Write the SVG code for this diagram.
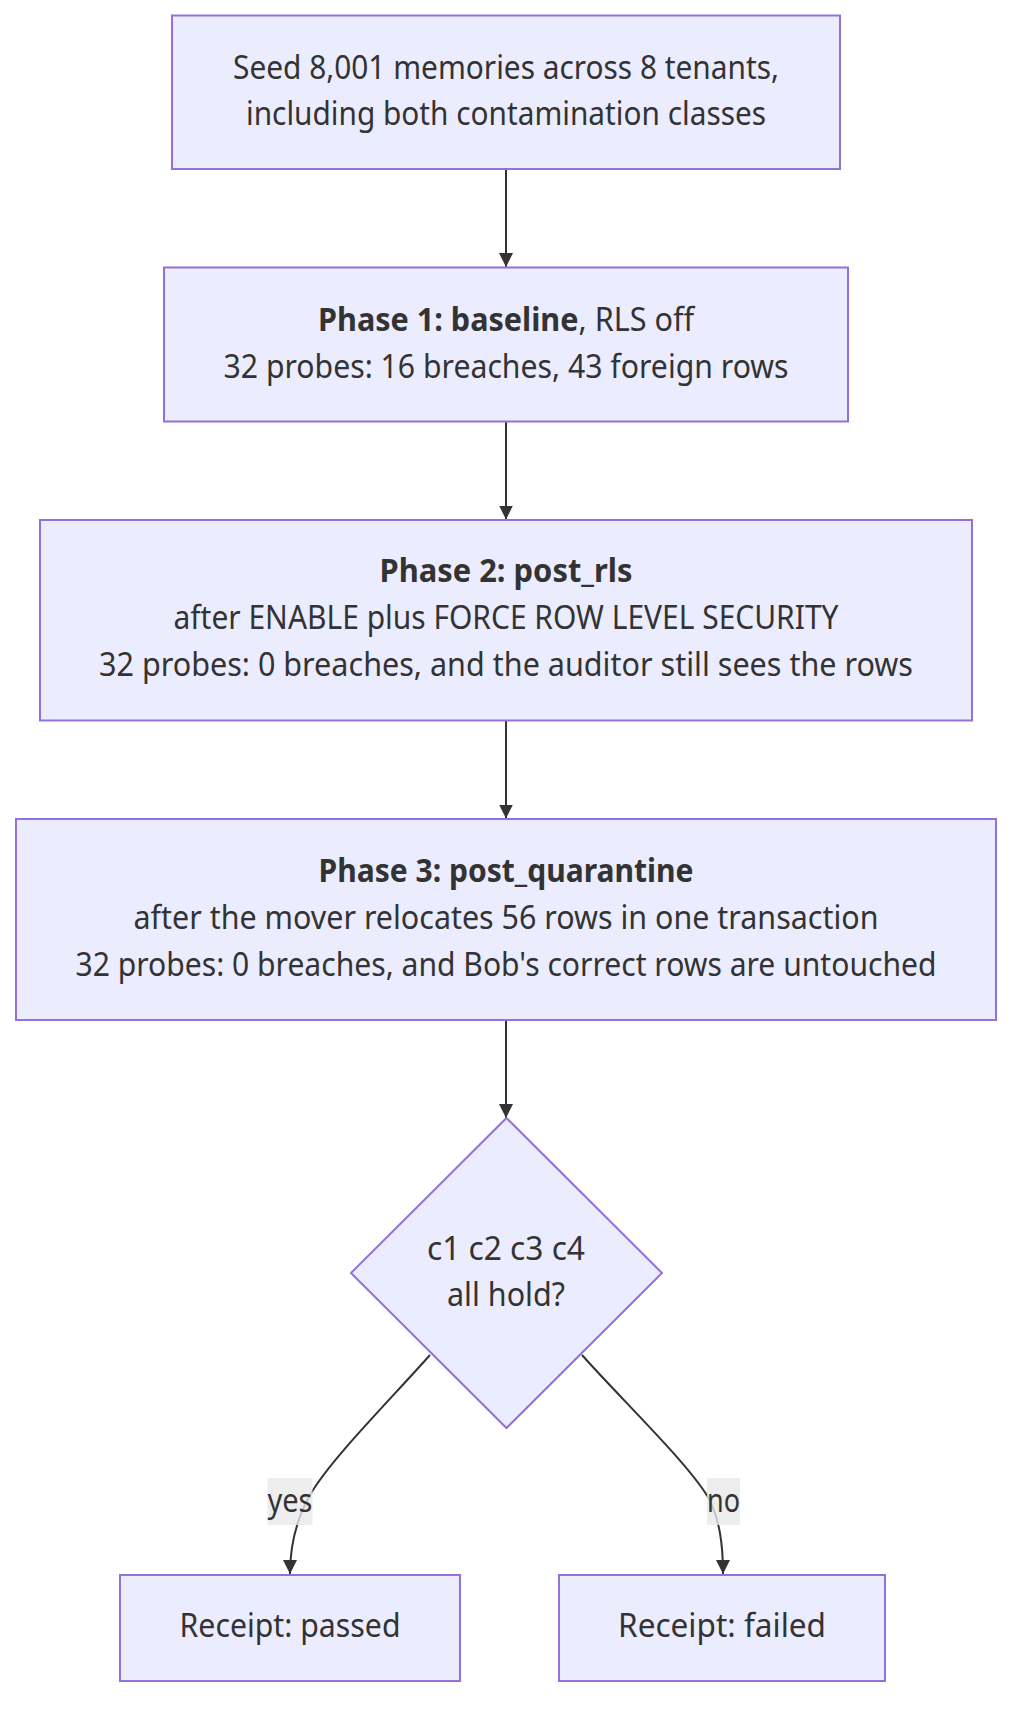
<svg xmlns="http://www.w3.org/2000/svg" width="1028" height="1724" viewBox="0 0 1028 1724">
<style>
.node{fill:#ECECFF;stroke:#9370DB;stroke-width:2}
.t{font-family:"Noto Sans","Liberation Sans",sans-serif;font-size:32px;fill:#333;text-anchor:middle}
.b{font-weight:bold}
.edge{fill:none;stroke:#333;stroke-width:2}
.lbl{fill:#e8e8e8;fill-opacity:0.8}
</style>
<defs>
<marker id="arrow" viewBox="0 0 10 10" refX="10" refY="5" markerUnits="userSpaceOnUse" markerWidth="14" markerHeight="14" orient="auto">
<path d="M0,0 L10,5 L0,10 z" fill="#333"/>
</marker>
</defs>
<rect width="1028" height="1724" fill="#fff"/>
<g id="connectors">
<path class="edge" d="M506,169.5 L506,267" marker-end="url(#arrow)"/>
<path class="edge" d="M506,421.5 L506,519.5" marker-end="url(#arrow)"/>
<path class="edge" d="M506,720.5 L506,818.5" marker-end="url(#arrow)"/>
<path class="edge" d="M506,1020 L506,1118" marker-end="url(#arrow)"/>
<path class="edge" d="M430,1355 C390,1400 330,1460 310,1495 C296,1520 290,1545 290,1574" marker-end="url(#arrow)"/>
<path class="edge" d="M582,1355 C622,1400 685,1460 708,1497 C720,1520 723,1545 723,1574" marker-end="url(#arrow)"/>
<g id="label-yes">
<rect class="lbl" x="267.5" y="1478" width="45" height="47"/>
<text class="t" x="290" y="1512" textLength="45" lengthAdjust="spacingAndGlyphs">yes</text>
</g>
<g id="label-no">
<rect class="lbl" x="707" y="1478" width="33" height="47"/>
<text class="t" x="723.5" y="1512" textLength="33" lengthAdjust="spacingAndGlyphs">no</text>
</g>
</g>
<g id="seed">
<rect class="node" x="172" y="15.5" width="668" height="153.5"/>
<text class="t" x="506" y="79" textLength="546" lengthAdjust="spacingAndGlyphs">Seed 8,001 memories across 8 tenants,</text>
<text class="t" x="506" y="125" textLength="520" lengthAdjust="spacingAndGlyphs">including both contamination classes</text>
</g>
<g id="phase1">
<rect class="node" x="164" y="267.5" width="684" height="154"/>
<text class="t" x="506" y="331" textLength="376" lengthAdjust="spacingAndGlyphs"><tspan class="b">Phase 1: baseline</tspan>, RLS off</text>
<text class="t" x="506" y="377.5" textLength="565" lengthAdjust="spacingAndGlyphs">32 probes: 16 breaches, 43 foreign rows</text>
</g>
<g id="phase2">
<rect class="node" x="40" y="520" width="932" height="200.5"/>
<text class="t b" x="506" y="581.5" textLength="253" lengthAdjust="spacingAndGlyphs">Phase 2: post_rls</text>
<text class="t" x="506" y="629" textLength="665" lengthAdjust="spacingAndGlyphs">after ENABLE plus FORCE ROW LEVEL SECURITY</text>
<text class="t" x="506" y="675.5" textLength="814" lengthAdjust="spacingAndGlyphs">32 probes: 0 breaches, and the auditor still sees the rows</text>
</g>
<g id="phase3">
<rect class="node" x="16" y="819" width="980" height="201"/>
<text class="t b" x="506" y="881.5" textLength="375" lengthAdjust="spacingAndGlyphs">Phase 3: post_quarantine</text>
<text class="t" x="506" y="929" textLength="745" lengthAdjust="spacingAndGlyphs">after the mover relocates 56 rows in one transaction</text>
<text class="t" x="506" y="975.5" textLength="861" lengthAdjust="spacingAndGlyphs">32 probes: 0 breaches, and Bob's correct rows are untouched</text>
</g>
<g id="decision">
<polygon class="node" points="506.5,1118 662,1273 506.5,1428 351,1273"/>
<text class="t" x="506" y="1260" textLength="158" lengthAdjust="spacingAndGlyphs">c1 c2 c3 c4</text>
<text class="t" x="506" y="1306" textLength="118" lengthAdjust="spacingAndGlyphs">all hold?</text>
</g>
<g id="passed">
<rect class="node" x="120" y="1575" width="340" height="106"/>
<text class="t" x="290" y="1636.5" textLength="221" lengthAdjust="spacingAndGlyphs">Receipt: passed</text>
</g>
<g id="failed">
<rect class="node" x="559" y="1575" width="326" height="106"/>
<text class="t" x="722" y="1636.5" textLength="208" lengthAdjust="spacingAndGlyphs">Receipt: failed</text>
</g>
</svg>
